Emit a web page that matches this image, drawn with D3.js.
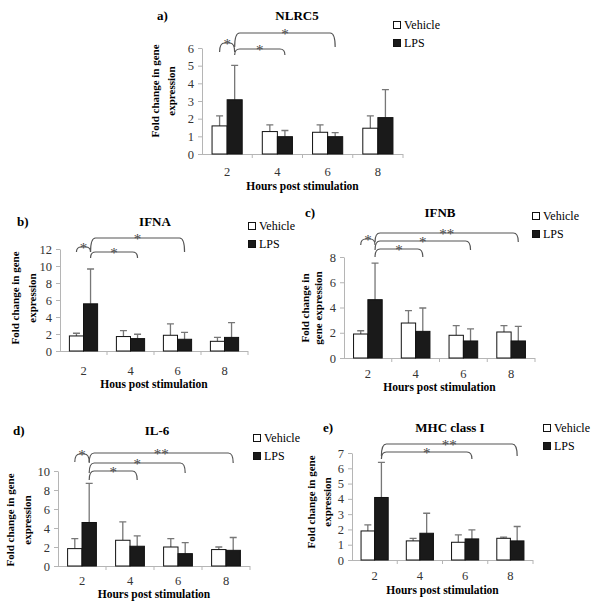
<!DOCTYPE html>
<html>
<head>
<meta charset="utf-8">
<script src="https://cdn.jsdelivr.net/npm/d3@7"></script>
<style>
  body { margin: 0; background: #fff; }
  svg, svg text { font-family: "Liberation Serif", "Times New Roman", "DejaVu Serif", serif; }
</style>
</head>
<body>
<div id="viz"></div>
<script>
const hours = ['2', '4', '6', '8'];
const series = ['Vehicle', 'LPS'];

// Means and SD
const nlrc5Vehicle = [1.59, 1.27, 1.23, 1.46];
const nlrc5VehicleSD = [0.57, 0.38, 0.42, 0.70];
const nlrc5LPS = [3.07, 0.98, 0.98, 2.06];
const nlrc5LPSSD = [1.95, 0.35, 0.23, 1.58];
const nlrc5Ticks = [0, 1, 2, 3, 4, 5, 6];

const ifnaVehicle = [1.77, 1.70, 1.85, 1.14];
const ifnaVehicleSD = [0.32, 0.70, 1.35, 0.46];
const ifnaLPS = [5.55, 1.46, 1.38, 1.60];
const ifnaLPSSD = [4.10, 0.51, 0.82, 1.75];
const ifnaTicks = [0, 2, 4, 6, 8, 10, 12];

const ifnbVehicle = [1.90, 2.77, 1.80, 2.06];
const ifnbVehicleSD = [0.26, 0.98, 0.76, 0.50];
const ifnbLPS = [4.62, 2.11, 1.35, 1.35];
const ifnbLPSSD = [2.90, 1.85, 0.95, 1.15];
const ifnbTicks = [0, 2, 4, 6, 8];

const il6Vehicle = [1.83, 2.71, 2.00, 1.73];
const il6VehicleSD = [1.06, 1.94, 0.89, 0.27];
const il6LPS = [4.58, 2.08, 1.30, 1.65];
const il6LPSSD = [4.12, 1.09, 1.16, 1.35];
const il6Ticks = [0, 2, 4, 6, 8, 10];

const mhcVehicle = [1.90, 1.25, 1.16, 1.42];
const mhcVehicleSD = [0.40, 0.17, 0.48, 0.07];
const mhcLPS = [4.09, 1.75, 1.38, 1.25];
const mhcLPSSD = [2.30, 1.31, 0.59, 0.94];
const mhcTicks = [0, 1, 2, 3, 4, 5, 6, 7];

// Significance comparisons [from series, from hour, to series, to hour, mark]
const nlrc5Sig = [['Vehicle', '2', 'LPS', '2', '*'], ['LPS', '2', 'LPS', '4', '*'], ['LPS', '2', 'LPS', '6', '*']];
const ifnaSig = [['Vehicle', '2', 'LPS', '2', '*'], ['LPS', '2', 'LPS', '4', '*'], ['LPS', '2', 'LPS', '6', '*']];
const ifnbSig = [['Vehicle', '2', 'LPS', '2', '*'], ['LPS', '2', 'LPS', '4', '*'], ['LPS', '2', 'LPS', '6', '*'], ['LPS', '2', 'LPS', '8', '**']];
const il6Sig = [['Vehicle', '2', 'LPS', '2', '*'], ['LPS', '2', 'LPS', '4', '*'], ['LPS', '2', 'LPS', '6', '*'], ['LPS', '2', 'LPS', '8', '**']];
const mhcSig = [['LPS', '2', 'LPS', '6', '*'], ['LPS', '2', 'LPS', '8', '**']];

// Panel layout (pixel placement only)
const panels = [
  {letter: 'a)', title: 'NLRC5', xLabel: 'Hours post stimulation', yLabel: ['Fold change in gene', 'expression'],
   vehicle: nlrc5Vehicle, vehicleSD: nlrc5VehicleSD, lps: nlrc5LPS, lpsSD: nlrc5LPSSD, ticks: nlrc5Ticks, sig: nlrc5Sig,
   x0: 202, x1: 403, y0: 154, y1: 48, letterXY: [157, 20], titleXY: [297, 20], legendXY: [393, 25],
   yLabelX: [155, 171], yLabelY: 91, tickDy: 18, xLabelY: 190,
   bracketY: [[43, 52], [49, 55], [33, 47]]},
  {letter: 'b)', title: 'IFNA', xLabel: 'Hous post stimulation', yLabel: ['Fold change in gene', 'expression'],
   vehicle: ifnaVehicle, vehicleSD: ifnaVehicleSD, lps: ifnaLPS, lpsSD: ifnaLPSSD, ticks: ifnaTicks, sig: ifnaSig,
   x0: 60, x1: 248, y0: 351, y1: 249, letterXY: [17, 226], titleXY: [155, 226], legendXY: [248, 226],
   yLabelX: [15, 32], yLabelY: 298, tickDy: 20, xLabelY: 388,
   bracketY: [[247, 252], [252, 258], [238, 252]]},
  {letter: 'c)', title: 'IFNB', xLabel: 'Hours post stimulation', yLabel: ['Fold change in', 'gene expression'],
   vehicle: ifnbVehicle, vehicleSD: ifnbVehicleSD, lps: ifnbLPS, lpsSD: ifnbLPSSD, ticks: ifnbTicks, sig: ifnbSig,
   x0: 344, x1: 535, y0: 358, y1: 257, letterXY: [305, 217], titleXY: [440, 217], legendXY: [532, 216],
   yLabelX: [305, 318], yLabelY: 308, tickDy: 16, xLabelY: 391,
   bracketY: [[239, 245], [249, 257], [241, 250], [233, 242]]},
  {letter: 'd)', title: 'IL-6', xLabel: 'Hours post stimulation', yLabel: ['Fold change in gene', 'expression'],
   vehicle: il6Vehicle, vehicleSD: il6VehicleSD, lps: il6LPS, lpsSD: il6LPSSD, ticks: il6Ticks, sig: il6Sig,
   x0: 58, x1: 250, y0: 566, y1: 471, letterXY: [13, 435], titleXY: [157, 435], legendXY: [253, 438],
   yLabelX: [10, 27], yLabelY: 520, tickDy: 15, xLabelY: 598,
   bracketY: [[454, 462], [471, 480], [463, 473], [453, 463]]},
  {letter: 'e)', title: 'MHC class I', xLabel: 'Hours post stimulation', yLabel: ['Fold change in gene', 'expression'],
   vehicle: mhcVehicle, vehicleSD: mhcVehicleSD, lps: mhcLPS, lpsSD: mhcLPSSD, ticks: mhcTicks, sig: mhcSig,
   x0: 352, x1: 533, y0: 560, y1: 453, letterXY: [323, 432], titleXY: [450, 432], legendXY: [543, 428],
   yLabelX: [311, 327], yLabelY: 502, tickDy: 16, xLabelY: 594,
   bracketY: [[452, 459], [444, 456]]}
];

const fontFamily = '"Liberation Serif", "Times New Roman", "DejaVu Serif", serif';
const axisColor = '#b5b5b5';
const errColor = '#777';
const lpsColor = '#1a1a1a';

const svg = d3.select('#viz')
  .append('svg')
    .attr('width', 600)
    .attr('height', 602)
    .attr('font-family', fontFamily);

const drawPanel = (p) => {
  const g = svg.append('g').attr('class', 'panel');

  const x = d3.scaleBand()
    .domain(hours)
    .range([p.x0, p.x1]);
  const barW = x.step() * 0.3;
  const xs = d3.scaleBand()
    .domain(series)
    .range([-barW, barW]);
  const y = d3.scaleLinear()
    .domain([0, d3.max(p.ticks)])
    .range([p.y0, p.y1]);

  // y axis
  const yAxis = d3.axisLeft(y)
    .tickValues(p.ticks)
    .tickFormat(d3.format('d'))
    .tickSize(4)
    .tickSizeOuter(0)
    .tickPadding(4);
  const yg = g.append('g')
    .attr('transform', `translate(${p.x0},0)`)
    .call(yAxis)
    .attr('font-family', fontFamily)
    .attr('font-size', 12.5);
  yg.select('.domain').attr('stroke', axisColor);
  yg.selectAll('.tick line').attr('stroke', axisColor);
  yg.selectAll('.tick text').attr('fill', '#333');

  // x axis
  g.append('line')
    .attr('x1', p.x0).attr('x2', p.x1)
    .attr('y1', p.y0 + 0.5).attr('y2', p.y0 + 0.5)
    .attr('stroke', axisColor);
  g.selectAll('.xtick')
    .data(hours)
    .join('line')
      .attr('x1', d => x(d) + x.step())
      .attr('x2', d => x(d) + x.step())
      .attr('y1', p.y0)
      .attr('y2', p.y0 + 4)
      .attr('stroke', axisColor);
  g.selectAll('.xlab')
    .data(hours)
    .join('text')
      .attr('x', d => x(d) + x.bandwidth() / 2)
      .attr('y', p.y0 + p.tickDy + 4)
      .attr('text-anchor', 'middle')
      .attr('fill', '#333')
      .style('font-size', '12.5px')
      .text(d => d);

  // bars
  const rows = [];
  hours.forEach((h, i) => {
    rows.push({hour: h, s: 'Vehicle', v: p.vehicle[i], sd: p.vehicleSD[i]});
    rows.push({hour: h, s: 'LPS', v: p.lps[i], sd: p.lpsSD[i]});
  });
  const cx = d => x(d.hour) + x.bandwidth() / 2 + xs(d.s) + xs.bandwidth() / 2;

  // error bars (upper only)
  g.selectAll('.err')
    .data(rows)
    .join('path')
      .attr('d', d => `M${cx(d)},${y(d.v)}V${y(d.v + d.sd)}M${cx(d) - 3.5},${y(d.v + d.sd)}H${cx(d) + 3.5}`)
      .attr('stroke', errColor)
      .attr('stroke-width', 1.3)
      .attr('fill', 'none');

  g.selectAll('.bar')
    .data(rows)
    .join('rect')
      .attr('x', d => x(d.hour) + x.bandwidth() / 2 + xs(d.s))
      .attr('y', d => y(d.v))
      .attr('width', xs.bandwidth())
      .attr('height', d => y(0) - y(d.v))
      .attr('fill', d => d.s === 'LPS' ? lpsColor : '#fff')
      .attr('stroke', '#111')
      .attr('stroke-width', 1);

  // significance brackets
  p.sig.forEach((s, i) => {
    const xa = x(s[1]) + x.bandwidth() / 2 + xs(s[0]) + xs.bandwidth() / 2;
    const xb = x(s[3]) + x.bandwidth() / 2 + xs(s[2]) + xs.bandwidth() / 2;
    const [top, bot] = p.bracketY[i];
    const r = Math.min(5, bot - top);
    g.append('path')
      .attr('d', `M${xa},${bot}Q${xa},${top} ${xa + r},${top}H${xb - r}Q${xb},${top} ${xb},${bot}`)
      .attr('fill', 'none')
      .attr('stroke', '#555')
      .attr('stroke-width', 1.2);
    g.append('text')
      .attr('x', (xa + xb) / 2)
      .attr('y', top + 6)
      .attr('text-anchor', 'middle')
      .attr('fill', '#444')
      .style('font-size', '15px')
      .text(s[4]);
  });

  // titles
  g.append('text')
    .attr('x', p.letterXY[0])
    .attr('y', p.letterXY[1])
    .style('font-size', '13px')
    .style('font-weight', 700)
    .text(p.letter);
  g.append('text')
    .attr('x', p.titleXY[0])
    .attr('y', p.titleXY[1])
    .attr('text-anchor', 'middle')
    .style('font-size', '13px')
    .style('font-weight', 700)
    .text(p.title);
  g.append('text')
    .attr('x', (p.x0 + p.x1) / 2)
    .attr('y', p.xLabelY)
    .attr('text-anchor', 'middle')
    .style('font-size', '11.5px')
    .style('font-weight', 700)
    .text(p.xLabel);
  p.yLabel.forEach((t, i) => {
    g.append('text')
      .attr('transform', `translate(${p.yLabelX[i]},${p.yLabelY}) rotate(-90)`)
      .attr('text-anchor', 'middle')
      .attr('dominant-baseline', 'central')
      .style('font-size', '11px')
      .style('font-weight', 700)
      .text(t);
  });

  // legend
  const lg = g.append('g')
    .attr('transform', `translate(${p.legendXY[0]},${p.legendXY[1]})`);
  series.forEach((s, i) => {
    lg.append('rect')
      .attr('x', 0.5)
      .attr('y', i * 18 - 3.5)
      .attr('width', 7)
      .attr('height', 7)
      .attr('fill', s === 'LPS' ? lpsColor : '#fff')
      .attr('stroke', '#111');
    lg.append('text')
      .attr('x', 11)
      .attr('y', i * 18)
      .attr('dominant-baseline', 'central')
      .style('font-size', '12px')
      .text(s);
  });
};

panels.forEach(drawPanel);
</script>
</body>
</html>
